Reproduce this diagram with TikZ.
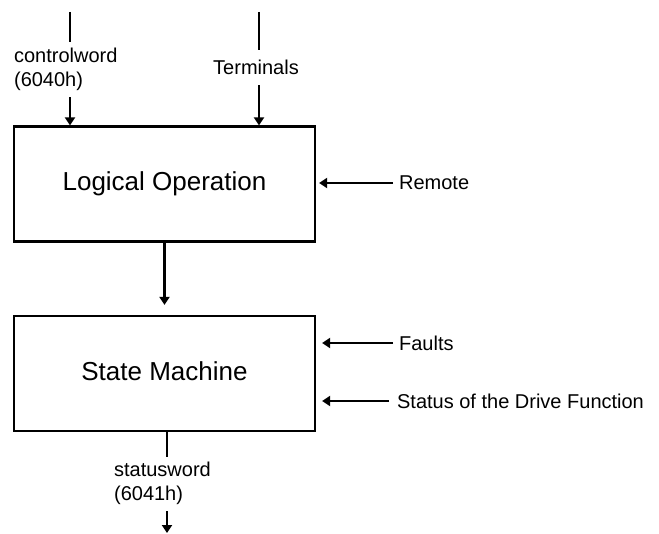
\documentclass[tikz,border=0pt]{standalone}
\usepackage{fontspec}
\setmainfont{Liberation Sans}
\usetikzlibrary{arrows.meta}

\begin{document}
\begin{tikzpicture}[x=1pt, y=-1pt, line width=2.2pt,
every node/.style = {font=\fontsize{20}{24}\selectfont, inner sep=0pt},
block/.style = {shape=rectangle, draw, minimum width=301pt,
	minimum height=115pt, font=\fontsize{26}{30}\selectfont, text depth=5.5pt},
arr/.style = {-{Triangle[width=10pt,length=8pt]}}]
	\useasboundingbox (0,0) rectangle (659,534);
	\node[block] (logic) at (164.5,184) {Logical Operation};
	\node[block] (state) at (164.5,373.5) {State Machine};
	\coordinate (cwtop) at (70,12);
	\coordinate (tmtop) at (259,12);
	\coordinate (swend) at (167,533);
	\node[anchor=west, align=left] (cwlbl) at (13,69) {controlword\\(6040h)};
	\node (tmlbl) at (256,67) {Terminals};
	\node[anchor=west, align=left] (swlbl) at (113,483) {statusword\\(6041h)};
	\node[anchor=west] (remote) at (398,183) {Remote};
	\node[anchor=west] (faults) at (398,343) {Faults};
	\node[anchor=west] (status) at (396,401) {Status of the Drive Function};
	\draw[shorten >=5pt] (cwtop) -- (cwtop |- cwlbl.north);
	\draw[arr, shorten <=6pt] (cwtop |- cwlbl.south) -- (cwtop |- logic.north);
	\draw[shorten >=9pt] (tmtop) -- (tmtop |- tmlbl.north);
	\draw[arr, shorten <=10pt] (tmtop |- tmlbl.south) -- (tmtop |- logic.north);
	\draw[arr, shorten >=10pt] (logic.south) -- (state.north);
	\draw[shorten >=4pt] (swend |- state.south) -- (swend |- swlbl.north);
	\draw[arr, shorten <=6pt] (swend |- swlbl.south) -- (swend);
	\draw[arr, shorten <=5pt, shorten >=3pt] (remote.west) -- (logic.east |- remote.west);
	\draw[arr, shorten <=5pt, shorten >=6pt] (faults.west) -- (state.east |- faults.west);
	\draw[arr, shorten <=7pt, shorten >=6pt] (status.west) -- (state.east |- status.west);
\end{tikzpicture}
\end{document}
